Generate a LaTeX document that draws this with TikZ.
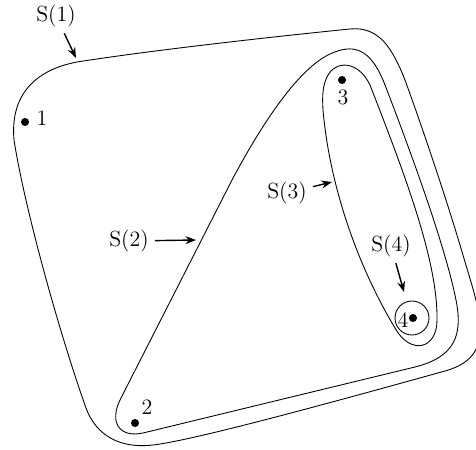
\documentclass[tikz,border=0pt]{standalone}
\usetikzlibrary{arrows.meta}
\begin{document}
\begin{tikzpicture}[x=0.02cm,y=-0.02cm,every node/.style={font=\fontsize{12.5}{15}\selectfont},
  dot/.style={circle,fill,inner sep=0pt,minimum size=4.6pt},
  setline/.style={line width=0.5pt},
  ptr/.style={thick,-{Stealth[length=6pt,width=4.5pt]}}]
  \clip (0,0) rectangle (476,449);
  % S(1)
  \draw[setline] (77,62) .. controls (160,49) and (290,35) .. (350,29)
    .. controls (380,26) and (393,50) .. (405,80)
    .. controls (425,135) and (450,210) .. (465,262)
    .. controls (482,318) and (495,357) .. (445,371)
    .. controls (330,403) and (205,437) .. (160,444)
    .. controls (120,451) and (96,435) .. (86,408)
    .. controls (60,335) and (25,210) .. (14,140)
    .. controls (10,95) and (35,70) .. cycle;
  % S(2)
  \draw[setline] (330,54) .. controls (352,44) and (370,46) .. (385,85)
    .. controls (410,150) and (445,245) .. (456,300)
    .. controls (463,335) and (455,357) .. (415,367)
    -- (143,433)
    .. controls (120,438) and (108,423) .. (121,398)
    -- (232,180)
    .. controls (265,118) and (300,68) .. cycle;
  % S(3)
  \draw[setline] (327,77) .. controls (335,60) and (358,60) .. (370,85)
    .. controls (403,170) and (438,260) .. (437,320)
    .. controls (437,350) and (410,355) .. (395,328)
    .. controls (360,270) and (330,190) .. (323,110)
    .. controls (322,95) and (323,85) .. cycle;
  % points
  \node[dot] (p1) at (25,122) {};
  \node[dot] (p2) at (135,423) {};
  \node[dot] (p3) at (342,80) {};
  \node[dot] (p4) at (413,318) {};
  % S(4)
  \draw[setline] (412,318) circle[radius=0.34cm];
  \node (n1) at (42,118) {1};
  \node (n2) at (147,407) {2};
  \node (n3) at (343,97) {3};
  \node (n4) at (403,320) {4};
  % set labels
  \node (s1) at (56,16) {S(1)};
  \node (s2) at (129,241) {S(2)};
  \node (s3) at (287,193) {S(3)};
  \node (s4) at (391,246) {S(4)};
  \coordinate (t1) at (76,58);
  \coordinate (t2) at (196,240);
  \coordinate (t3) at (332,182);
  \coordinate (t4) at (404,292);
  \draw[ptr] (s1) -- (t1);
  \draw[ptr] (s2) -- (t2);
  \draw[ptr] (s3) -- (t3);
  \draw[ptr] (s4) -- (t4);
\end{tikzpicture}
\end{document}
